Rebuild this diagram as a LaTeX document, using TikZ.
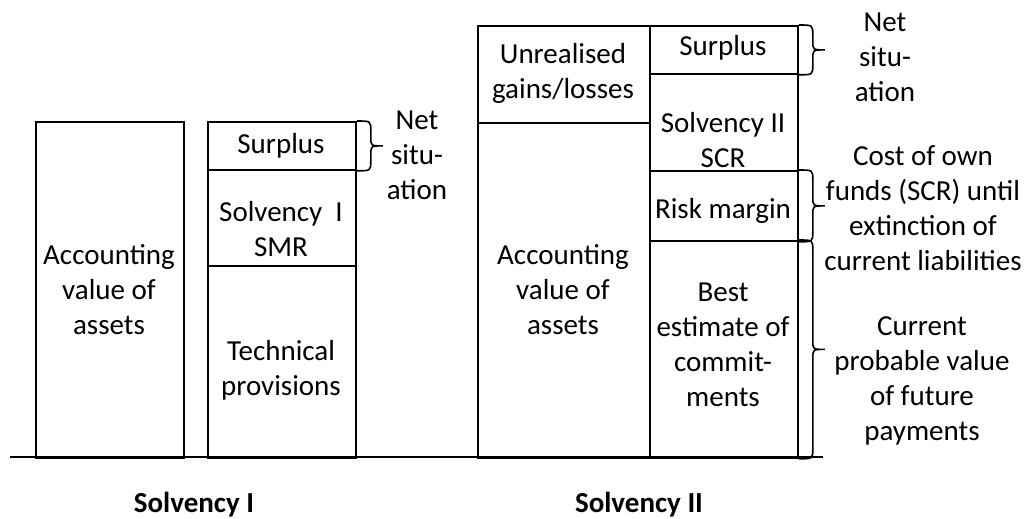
\documentclass[tikz,border=0pt]{standalone}
\usepackage{fontspec}
\setmainfont{Carlito}
\usetikzlibrary{calc}
\tikzset{
  box/.style={draw, line width=1.8pt, inner sep=0pt, anchor=north west},
  txt/.style={align=center, inner sep=0pt, font={\fontsize{29}{35}\selectfont}},
  ttl/.style={align=center, inner sep=0pt, font={\bfseries\fontsize{29}{35}\selectfont}},
  brc/.style={draw, line width=1.6pt},
}
\newcommand\SBrace[2]{%
  \path[brc] let \p1=(#1), \p2=(#2), \p3=($(#1)!0.5!(#2)$) in
    (\p1) .. controls (\x1+14pt,\y1) .. (\x1+14pt,\y1-10pt)
    -- (\x1+14pt,\y3+9pt) .. controls (\x1+14pt,\y3) .. (\x1+26pt,\y3)
    .. controls (\x1+14pt,\y3) .. (\x1+14pt,\y3-9pt)
    -- (\x1+14pt,\y2+10pt) .. controls (\x1+14pt,\y2) .. (\p2);}
\begin{document}
\begin{tikzpicture}[x=1pt,y=-1pt]
\useasboundingbox (0,0) rectangle (1029,519);
% Solvency I
\node[box, minimum width=148pt, minimum height=336pt] (A1) at (35,121) {};
\node[box, minimum width=148pt, minimum height=48pt] (S1) at (207,121) {};
\node[box, minimum width=148pt, minimum height=96pt] (M1) at (207,169) {};
\node[box, minimum width=148pt, minimum height=192pt] (T1) at (207,265) {};
% Solvency II
\node[box, minimum width=172pt, minimum height=97pt] (U2) at (477,25) {};
\node[box, minimum width=172pt, minimum height=335pt] (A2) at (477,122) {};
\node[box, minimum width=148pt, minimum height=48pt] (S2) at (649,25) {};
\node[box, minimum width=148pt, minimum height=97pt] (C2) at (649,73) {};
\node[box, minimum width=148pt, minimum height=70pt] (R2) at (649,170) {};
\node[box, minimum width=148pt, minimum height=217pt] (B2) at (649,240) {};
% baseline
\coordinate (L) at (10,457);
\coordinate (R) at (823,457);
\draw[line width=1.9pt] (L) -- (R);
% texts in boxes
\node[txt] (tA1) at (109,290) {Accounting\\value of\\assets};
\node[txt] (tS1) at (281,146) {Surplus};
\node[txt] (tM1) at (281,229) {Solvency\ \ I\\SMR};
\node[txt] (tT1) at (281,370) {Technical\\provisions};
\node[txt] (tU2) at (563,73) {Unrealised\\gains/losses};
\node[txt] (tA2) at (563,290) {Accounting\\value of\\assets};
\node[txt] (tS2) at (723,48) {Surplus};
\node[txt] (tC2) at (723,140) {Solvency II\\SCR};
\node[txt] (tR2) at (723,211) {Risk margin};
\node[txt] (tB2) at (723,345) {Best\\estimate of\\commit-\\ments};
% braces
\SBrace{S1.north east}{S1.south east}
\SBrace{S2.north east}{S2.south east}
\SBrace{R2.north east}{R2.south east}
\SBrace{B2.north east}{B2.south east}
% side labels
\node[txt] (n1) at (417,155) {Net\\situ-\\ation};
\node[txt] (n2) at (885,57) {Net\\situ-\\ation};
\node[txt] (c2) at (923,208) {Cost of own\\funds (SCR) until\\extinction of\\current liabilities};
\node[txt] (p2) at (922,381) {Current\\probable value\\of future\\payments};
% titles
\node[ttl] (t1) at (194,505) {Solvency I};
\node[ttl] (t2) at (639,505) {Solvency II};
\end{tikzpicture}
\end{document}
